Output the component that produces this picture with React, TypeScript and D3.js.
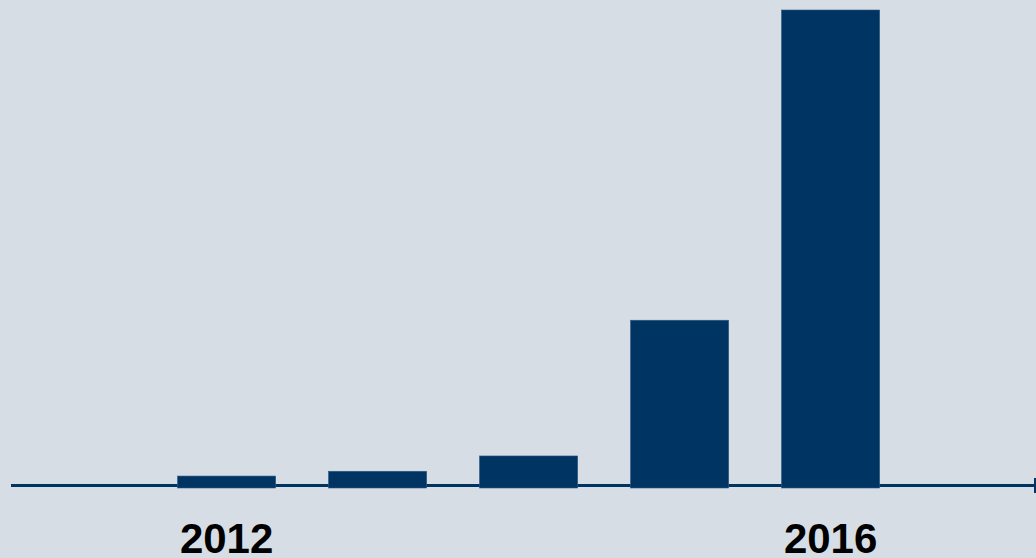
import React from "react";
import * as d3 from "d3";

const years = ["2012", "2013", "2014", "2015", "2016"];
const values = [2.5, 3.5, 6.7, 35.1, 100];
const tickLabels = ["2012", "2016"];

const W = 1036;
const H = 558;
const BG = "#d6dde4";
const NAVY = "#003463";

export default function App() {
  const x = d3
    .scaleBand<string>()
    .domain(years)
    .range([151.1, 906.1])
    .paddingInner(0.35)
    .paddingOuter(0.175);
  const y = d3.scaleLinear().domain([0, 100]).range([488, 10]);
  const axisY = 485.5;

  return (
    <svg
      width={W}
      height={H}
      style={{ position: "absolute", left: 0, top: 0, display: "block", background: BG }}
    >
      <rect x={0} y={0} width={W} height={H} fill={BG} />
      <line x1={11} x2={1035} y1={axisY} y2={axisY} stroke={NAVY} strokeWidth={3} />
      <line x1={1035} x2={1035} y1={478} y2={493} stroke={NAVY} strokeWidth={2} />
      {years.map((yr, i) => (
        <rect
          key={yr}
          x={x(yr)!}
          y={y(values[i])}
          width={x.bandwidth()}
          height={y(0) - y(values[i])}
          fill={NAVY}
          stroke="#2f5a82"
          strokeWidth={0.6}
        />
      ))}
      {tickLabels.map((t) => (
        <text
          key={t}
          x={x(t)! + x.bandwidth() / 2}
          y={553}
          textAnchor="middle"
          fontFamily="Liberation Sans, Arial, sans-serif"
          fontWeight="bold"
          fontSize={42}
          fill="#000"
        >
          {t}
        </text>
      ))}
    </svg>
  );
}
